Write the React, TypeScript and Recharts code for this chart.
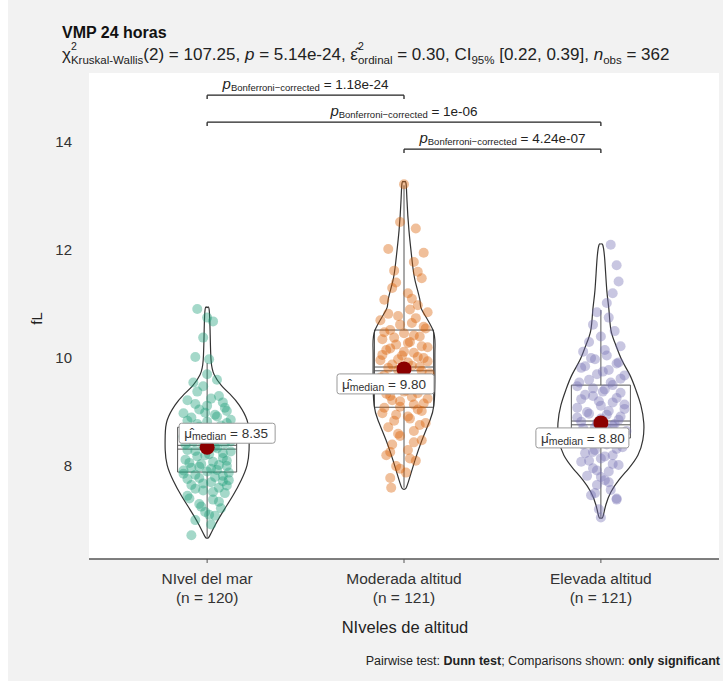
import React from 'react'
import { ComposedChart, XAxis, YAxis, Line, Scatter, ReferenceArea, ReferenceLine, CartesianGrid } from 'recharts'

// groups and summary stats
const groups = ['NIvel del mar', 'Moderada altitud', 'Elevada altitud']
const groupSizes = [120, 121, 121]
const medians = [8.35, 9.8, 8.8]
const q1 = [7.89, 9.09, 8.52]
const q3 = [8.72, 10.52, 9.5]
const whiskerLow = [6.69, 7.6, 7.06]
const whiskerHigh = [9.91, 13.2, 10.89]
const yTicks = [8, 10, 12, 14]
const colors = ['#1B9E77', '#D95F02', '#7570B3']

// violin outlines: level (fL) and half width (x units)
const violinLevels1 = [10.91, 10.52, 9.96, 9.69, 9.5, 9.31, 9.13, 8.85, 8.57, 8.3, 8.02, 7.74, 7.46, 7.19, 6.91, 6.69]
const violinWidths1 = [0.01, 0.015, 0.02, 0.036, 0.071, 0.122, 0.163, 0.203, 0.213, 0.213, 0.203, 0.173, 0.132, 0.086, 0.041, 0.01]
const violinLevels2 = [13.24, 12.93, 12.37, 11.81, 11.44, 11.07, 10.89, 10.52, 10.15, 9.59, 9.13, 8.85, 8.48, 8.11, 7.74, 7.59]
const violinWidths2 = [0.01, 0.015, 0.025, 0.041, 0.056, 0.081, 0.091, 0.147, 0.157, 0.157, 0.152, 0.132, 0.091, 0.056, 0.025, 0.01]
const violinLevels3 = [12.09, 11.81, 11.26, 10.89, 10.52, 10.24, 9.96, 9.69, 9.41, 9.13, 8.8, 8.48, 8.2, 7.96, 7.74, 7.52, 7.28, 7.06]
const violinWidths3 = [0.01, 0.02, 0.03, 0.041, 0.051, 0.076, 0.107, 0.147, 0.178, 0.203, 0.218, 0.213, 0.188, 0.142, 0.091, 0.051, 0.025, 0.01]

// observations: [x jitter, value]
const points1: [number, number][] = [
  [-0.05, 10.91], [0.0, 10.75], [0.03, 10.68], [-0.02, 10.38], [-0.06, 10.02], [0.01, 9.98], [-0.07, 9.55], [-0.02, 9.48],
  [0.06, 9.3], [-0.1, 9.22], [0.08, 9.18], [0.0, 9.12], [-0.04, 9.05], [0.1, 9.02], [-0.12, 8.98], [0.04, 8.95],
  [-0.08, 8.9], [0.12, 8.86], [0.0, 8.82], [-0.05, 8.78], [0.07, 8.75], [-0.1, 8.7], [0.03, 8.66], [0.11, 8.62],
  [-0.03, 8.58], [-0.12, 8.55], [0.06, 8.52], [0.0, 8.48], [-0.07, 8.45], [0.09, 8.42], [-0.02, 8.38], [0.05, 8.33],
  [-0.1, 8.3], [0.12, 8.27], [0.01, 8.22], [-0.05, 8.18], [0.08, 8.15], [-0.11, 8.12], [0.03, 8.08], [-0.03, 8.04],
  [0.1, 8.0], [-0.08, 7.97], [0.05, 7.93], [0.0, 7.9], [-0.12, 7.86], [0.08, 7.82], [-0.04, 7.78], [0.11, 7.74],
  [0.02, 7.7], [-0.08, 7.65], [0.06, 7.6], [-0.02, 7.55], [0.09, 7.5], [-0.1, 7.45], [0.03, 7.38], [-0.04, 7.3],
  [0.07, 7.22], [-0.01, 7.15], [0.04, 7.08], [-0.06, 7.0], [0.02, 6.92], [-0.08, 6.72],
  [0.02, 9.25], [-0.06, 9.15], [0.09, 9.08], [-0.01, 8.99], [0.05, 8.92], [-0.1, 8.84], [0.1, 8.8], [-0.04, 8.73],
  [0.02, 8.69], [-0.08, 8.63], [0.07, 8.57], [-0.02, 8.5], [0.12, 8.46], [-0.11, 8.4], [0.04, 8.36], [-0.06, 8.28],
  [0.08, 8.24], [-0.01, 8.2], [0.1, 8.1], [-0.09, 8.06], [0.06, 8.02], [-0.04, 7.99], [0.02, 7.95], [-0.12, 7.92],
  [0.11, 7.88], [-0.06, 7.84], [0.04, 7.8], [-0.1, 7.76], [0.08, 7.72], [-0.02, 7.68], [0.1, 7.64], [-0.06, 7.58],
  [0.03, 7.52], [-0.09, 7.4], [0.06, 7.34], [-0.03, 7.25], [0.01, 7.1], [-0.05, 9.38], [0.05, 9.6], [0.0, 9.7],
]
const points2: [number, number][] = [
  [0.0, 13.22], [-0.02, 12.52], [0.06, 12.4], [-0.08, 12.02], [0.1, 11.95], [0.05, 11.78], [-0.05, 11.62], [0.09, 11.48],
  [-0.06, 11.3], [0.02, 11.2], [-0.1, 11.08], [0.07, 10.98], [0.12, 10.85], [-0.03, 10.78], [-0.12, 10.7], [0.04, 10.65],
  [0.1, 10.58], [-0.07, 10.52], [0.0, 10.46], [0.08, 10.4], [-0.11, 10.35], [0.03, 10.3], [-0.04, 10.25], [0.12, 10.2],
  [-0.09, 10.15], [0.05, 10.1], [-0.01, 10.05], [0.1, 10.0], [-0.12, 9.96], [0.02, 9.92], [-0.06, 9.88], [0.08, 9.84],
  [-0.03, 9.78], [0.13, 9.72], [-0.1, 9.68], [0.04, 9.62], [-0.05, 9.56], [0.1, 9.5], [-0.12, 9.45], [0.01, 9.4],
  [0.07, 9.35], [-0.07, 9.3], [0.12, 9.25], [-0.02, 9.2], [0.05, 9.14], [-0.1, 9.08], [0.09, 9.02], [-0.04, 8.95],
  [0.03, 8.88], [0.11, 8.8], [-0.08, 8.72], [0.05, 8.65], [-0.02, 8.56], [0.09, 8.48], [-0.06, 8.4], [0.02, 8.3],
  [-0.09, 8.2], [0.06, 8.1], [-0.04, 8.0], [0.01, 7.88], [-0.07, 7.78], [-0.065, 7.6],
  [0.03, 10.9], [-0.08, 10.82], [0.06, 10.74], [-0.02, 10.62], [0.11, 10.55], [-0.1, 10.48], [0.05, 10.42], [-0.05, 10.38],
  [0.02, 10.28], [0.09, 10.22], [-0.07, 10.18], [0.0, 10.12], [-0.11, 10.06], [0.07, 10.02], [-0.03, 9.98], [0.12, 9.94],
  [0.04, 9.86], [-0.08, 9.82], [0.09, 9.76], [-0.01, 9.7], [-0.12, 9.64], [0.06, 9.58], [-0.04, 9.52], [0.11, 9.46],
  [0.0, 9.38], [-0.09, 9.34], [0.04, 9.28], [-0.06, 9.22], [0.1, 9.16], [-0.02, 9.1], [0.07, 9.05], [-0.11, 8.98],
  [0.02, 8.92], [-0.05, 8.84], [0.08, 8.76], [-0.03, 8.6], [0.05, 8.44], [-0.07, 8.26], [0.03, 8.14], [-0.02, 7.95],
  [0.04, 11.1], [-0.04, 11.4], [0.07, 11.6],
]
const points3: [number, number][] = [
  [0.05, 12.1], [0.08, 11.72], [0.09, 11.42], [0.06, 11.2], [0.03, 11.02], [-0.02, 10.85], [0.04, 10.75], [-0.04, 10.62],
  [0.07, 10.5], [0.0, 10.4], [-0.06, 10.3], [0.1, 10.22], [-0.09, 10.12], [0.03, 10.05], [-0.03, 9.98], [0.08, 9.9],
  [-0.1, 9.82], [0.01, 9.75], [0.12, 9.68], [-0.06, 9.6], [0.05, 9.55], [-0.12, 9.48], [0.02, 9.42], [0.1, 9.36],
  [-0.04, 9.3], [-0.1, 9.24], [0.06, 9.18], [0.0, 9.12], [0.12, 9.06], [-0.07, 9.0], [0.03, 8.95], [-0.12, 8.9],
  [0.09, 8.86], [-0.02, 8.8], [0.06, 8.75], [-0.09, 8.7], [0.13, 8.65], [0.0, 8.6], [-0.05, 8.55], [0.08, 8.5],
  [-0.11, 8.45], [0.03, 8.4], [0.11, 8.35], [-0.03, 8.3], [-0.08, 8.24], [0.06, 8.2], [0.0, 8.14], [-0.1, 8.08],
  [0.09, 8.02], [-0.04, 7.96], [0.04, 7.9], [-0.07, 7.82], [0.02, 7.74], [-0.02, 7.65], [0.05, 7.56], [-0.05, 7.46],
  [0.08, 7.38], [-0.01, 7.2], [0.0, 7.05],
  [0.02, 10.15], [-0.05, 10.0], [0.09, 9.92], [-0.08, 9.85], [0.04, 9.78], [-0.02, 9.7], [0.1, 9.62], [-0.11, 9.55],
  [0.06, 9.5], [-0.04, 9.44], [0.01, 9.38], [-0.08, 9.32], [0.08, 9.26], [-0.01, 9.2], [0.12, 9.14], [-0.12, 9.08],
  [0.04, 9.02], [-0.06, 8.97], [0.1, 8.92], [0.0, 8.88], [-0.1, 8.82], [0.07, 8.78], [-0.03, 8.72], [0.03, 8.68],
  [-0.07, 8.62], [0.11, 8.58], [-0.01, 8.52], [0.05, 8.46], [-0.09, 8.4], [0.08, 8.32], [-0.04, 8.26], [0.02, 8.18],
  [-0.06, 8.1], [0.06, 8.04], [-0.02, 7.92], [0.0, 7.8], [0.04, 7.7], [-0.03, 7.5], [0.08, 7.4],
]

// pairwise comparisons
const compFrom = [1, 1, 2]
const compTo = [2, 3, 3]
const compLevel = [14.87, 14.37, 13.87]
const compP = ['1.18e-24', '1e-06', '4.24e-07']

const FONT = '"Liberation Sans", Arial, Helvetica, sans-serif'
const BOX_HALF = 0.15
const labelOffsets = [
  { dx: -28, dy: -14, w: 96 },
  { dx: -67, dy: 15, w: 97 },
  { dx: -65, dy: 15, w: 93 },
]

const outline = (pos: number, levels: number[], widths: number[]) => {
  const right = levels.map((v, i) => ({ x: pos + widths[i], y: v }))
  const left = levels.map((v, i) => ({ x: pos - widths[i], y: v })).reverse()
  return [{ x: pos, y: levels[0] + 0.02 }, ...right, { x: pos, y: levels[levels.length - 1] - 0.02 }, ...left, { x: pos, y: levels[0] + 0.02 }]
}

const violins = [
  outline(1, violinLevels1, violinWidths1),
  outline(2, violinLevels2, violinWidths2),
  outline(3, violinLevels3, violinWidths3),
]

const pointData = [points1, points2, points3].map((pts, g) => pts.map(([j, v]) => ({ x: g + 1 + j, y: v })))
const medianData = medians.map((m, i) => ({ x: i + 1, y: m, g: i }))
const compData = compP.map((p, i) => ({ x: (compFrom[i] + compTo[i]) / 2, y: compLevel[i], p }))

const XTick = ({ x, y, payload }: any) => {
  const i = Math.round(payload.value) - 1
  if (i < 0 || i > 2) return null
  return (
    <text x={x} y={y} textAnchor="middle" fontSize={15.5} fill="#333" fontFamily={FONT}>
      <tspan x={x} dy={19}>{groups[i]}</tspan>
      <tspan x={x} dy={19}>(n = {groupSizes[i]})</tspan>
    </text>
  )
}

const MedianLabel = (props: any) => {
  const { cx, cy, payload } = props
  const o = labelOffsets[payload.g]
  const top = cy + o.dy - 10
  return (
    <g>
      <circle cx={cx} cy={cy} r={7.5} fill="#8B0000" />
      <rect x={cx + o.dx} y={top} width={o.w} height={20} rx={2.5} fill="#fff" stroke="#999" strokeWidth={1} />
      <text x={cx + o.dx + 5} y={top + 15} fontSize={13.5} fill="#333" fontFamily={FONT}>
        <tspan>μ̂</tspan>
        <tspan fontSize={10.5} dy={2}>median</tspan>
        <tspan dy={-2}> = {payload.y.toFixed(2)}</tspan>
      </text>
    </g>
  )
}

const CompLabel = (props: any) => {
  const { cx, cy, payload } = props
  return (
    <text x={cx} y={cy - 6} textAnchor="middle" fontSize={13.5} fill="#222" fontFamily={FONT}>
      <tspan fontStyle="italic" fontSize={15}>p</tspan>
      <tspan fontSize={9.5} dy={2}>Bonferroni−corrected</tspan>
      <tspan dy={-2}> = {payload.p}</tspan>
    </text>
  )
}

const Dot = (color: string) => (props: any) => (
  <circle cx={props.cx} cy={props.cy} r={5} fill={color} fillOpacity={0.4} />
)

const subStyle: React.CSSProperties = { fontSize: 11.5, lineHeight: 0 }

// symbol with superscript 2 stacked over a subscript
const Stacked = ({ base, sub }: { base: string; sub: string }) => (
  <span>
    <span style={{ position: 'relative' }}>
      {base}
      <span style={{ position: 'absolute', left: '100%', top: -5, fontSize: 10.5 }}>2</span>
    </span>
    <sub style={subStyle}>{sub}</sub>
  </span>
)

export default function App() {
  return (
    <div style={{ position: 'absolute', left: 0, top: 0, width: 723, height: 681, background: '#fff', fontFamily: FONT }}>
      <div style={{ position: 'absolute', left: 8, top: 0, width: 715, height: 681, background: '#f2f2f2' }} />
      <div style={{ position: 'absolute', left: 0, top: 0 }}>
        <ComposedChart width={723} height={681} margin={{ top: 73, right: 4, bottom: 0, left: 0 }}>
          <CartesianGrid horizontal={false} vertical={false} fill="#ffffff" fillOpacity={1} />
          <XAxis
            type="number"
            dataKey="x"
            domain={[0.4, 3.6]}
            ticks={[1, 2, 3]}
            allowDataOverflow
            axisLine={{ stroke: '#555', strokeWidth: 1.6 }}
            tickLine={{ stroke: '#555' }}
            tickSize={4}
            tick={<XTick />}
            height={122}
          />
          <YAxis
            type="number"
            dataKey="y"
            domain={[6.28, 15.28]}
            ticks={yTicks}
            allowDataOverflow
            axisLine={false}
            tickLine={false}
            tickSize={0}
            tickMargin={17}
            width={89}
            tick={{ fill: '#333', fontSize: 15, fontFamily: FONT }}
          />
          {violins.map((v, i) => (
            <Line
              key={`v${i}`}
              data={v}
              dataKey="y"
              type="natural"
              stroke="#333"
              strokeWidth={1.2}
              dot={false}
              activeDot={false}
              isAnimationActive={false}
            />
          ))}
          {pointData.map((d, i) => (
            <Scatter key={`p${i}`} data={d} shape={Dot(colors[i])} isAnimationActive={false} />
          ))}
          {medians.map((m, i) => (
            <ReferenceArea
              key={`b${i}`}
              x1={i + 1 - BOX_HALF}
              x2={i + 1 + BOX_HALF}
              y1={q1[i]}
              y2={q3[i]}
              fill="none"
              fillOpacity={0}
              stroke="#555"
              strokeWidth={1}
            />
          ))}
          {medians.map((m, i) => (
            <ReferenceLine key={`m${i}`} segment={[{ x: i + 1 - BOX_HALF, y: m + 0.035 }, { x: i + 1 + BOX_HALF, y: m + 0.035 }]} stroke="#555" />
          ))}
          {medians.map((m, i) => (
            <ReferenceLine key={`m2${i}`} segment={[{ x: i + 1 - BOX_HALF, y: m - 0.035 }, { x: i + 1 + BOX_HALF, y: m - 0.035 }]} stroke="#555" />
          ))}
          {medians.map((m, i) => (
            <ReferenceLine key={`wh${i}`} segment={[{ x: i + 1, y: q3[i] }, { x: i + 1, y: whiskerHigh[i] }]} stroke="#555" />
          ))}
          {medians.map((m, i) => (
            <ReferenceLine key={`wl${i}`} segment={[{ x: i + 1, y: q1[i] }, { x: i + 1, y: whiskerLow[i] }]} stroke="#555" />
          ))}
          {compP.map((p, i) => (
            <ReferenceLine key={`c${i}`} segment={[{ x: compFrom[i], y: compLevel[i] }, { x: compTo[i], y: compLevel[i] }]} stroke="#222" strokeWidth={1.3} />
          ))}
          {compP.map((p, i) => (
            <ReferenceLine key={`cl${i}`} segment={[{ x: compFrom[i], y: compLevel[i] }, { x: compFrom[i], y: compLevel[i] - 0.07 }]} stroke="#222" strokeWidth={1.3} />
          ))}
          {compP.map((p, i) => (
            <ReferenceLine key={`cr${i}`} segment={[{ x: compTo[i], y: compLevel[i] }, { x: compTo[i], y: compLevel[i] - 0.07 }]} stroke="#222" strokeWidth={1.3} />
          ))}
          <Scatter data={compData} shape={CompLabel} isAnimationActive={false} />
          <Scatter data={medianData} shape={MedianLabel} isAnimationActive={false} />
        </ComposedChart>
      </div>

      <div style={{ position: 'absolute', left: 62, top: 24, fontSize: 16, fontWeight: 'bold', color: '#111' }}>VMP 24 horas</div>
      <div style={{ position: 'absolute', left: 62, top: 45, fontSize: 17, color: '#222', whiteSpace: 'nowrap' }}>
        <Stacked base="χ" sub="Kruskal-Wallis" />(2) = 107.25, <i>p</i> = 5.14e-24, <Stacked base="ε̂" sub="ordinal" /> = 0.30,
        CI<sub style={subStyle}>95%</sub> [0.22, 0.39], <i>n</i>
        <sub style={subStyle}>obs</sub> = 362
      </div>
      <div style={{ position: 'absolute', left: 30, top: 310, fontSize: 15, color: '#222', transform: 'rotate(-90deg)' }}>fL</div>
      <div style={{ position: 'absolute', left: 0, width: 810, top: 618, textAlign: 'center', fontSize: 16.5, color: '#222' }}>NIveles de altitud</div>
      <div style={{ position: 'absolute', right: 3, top: 654, fontSize: 12.5, color: '#222', whiteSpace: 'nowrap' }}>
        Pairwise test: <b>Dunn test</b>; Comparisons shown: <b>only significant</b>
      </div>
    </div>
  )
}
